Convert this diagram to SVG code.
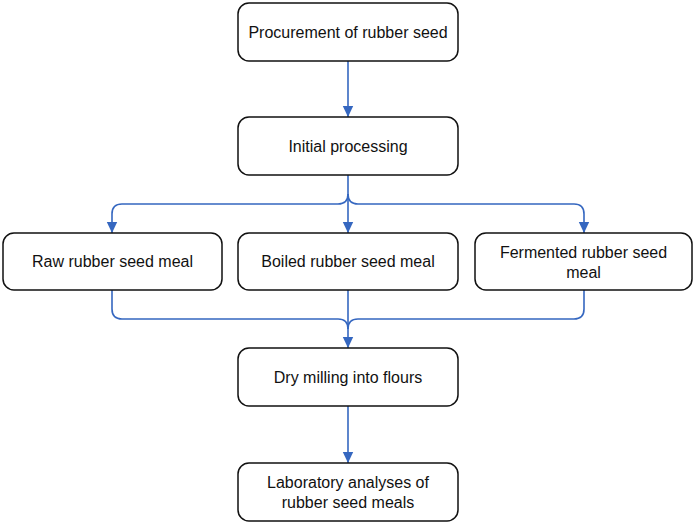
<svg xmlns="http://www.w3.org/2000/svg" width="696" height="524" viewBox="0 0 696 524">
<defs>
<marker id="arr" markerUnits="userSpaceOnUse" markerWidth="12" markerHeight="12" viewBox="0 0 12 12" refX="11" refY="6" orient="auto">
<path d="M0,0.8 L11,6 L0,11.2 Z" fill="#3567c0"/>
</marker>
<style>
.box{fill:#fff;stroke:#111;stroke-width:1.5}
.t{font-family:"Liberation Sans",Arial,sans-serif;font-size:16px;fill:#111;text-anchor:middle}
.c{fill:none;stroke:#3567c0;stroke-width:1.6}
.ca{fill:none;stroke:#3567c0;stroke-width:1.6;marker-end:url(#arr)}
</style>
</defs>
<rect width="696" height="524" fill="#fff"/>
<g id="connectors">
<path class="ca" d="M348,61 V117"/>
<path class="ca" d="M348,175 V233"/>
<path class="ca" d="M348,194 Q348,204 338,204 H122 Q112,204 112,214 V233"/>
<path class="ca" d="M348,194 Q348,204 358,204 H574 Q584,204 584,214 V233"/>
<path class="c" d="M112,290 V309 Q112,319 122,319 H338 Q348,319 348,329"/>
<path class="c" d="M584,290 V309 Q584,319 574,319 H358 Q348,319 348,329"/>
<path class="ca" d="M348,290 V348"/>
<path class="ca" d="M348,406 V463"/>
</g>
<g id="n1"><rect class="box" x="238" y="3" width="220" height="58" rx="11"/><text class="t" x="348" y="37.5">Procurement of rubber seed</text></g>
<g id="n2"><rect class="box" x="238" y="117" width="220" height="58" rx="11"/><text class="t" x="348" y="151.5">Initial processing</text></g>
<g id="n3"><rect class="box" x="3" y="233" width="219" height="57" rx="11"/><text class="t" x="112.5" y="267">Raw rubber seed meal</text></g>
<g id="n4"><rect class="box" x="238" y="233" width="220" height="57" rx="11"/><text class="t" x="348" y="267">Boiled rubber seed meal</text></g>
<g id="n5"><rect class="box" x="475" y="233" width="217" height="57" rx="11"/><text class="t" x="583.5" y="257.5">Fermented rubber seed</text><text class="t" x="583.5" y="278">meal</text></g>
<g id="n6"><rect class="box" x="238" y="348" width="220" height="58" rx="11"/><text class="t" x="348" y="382.5">Dry milling into flours</text></g>
<g id="n7"><rect class="box" x="238" y="463" width="220" height="58" rx="11"/><text class="t" x="348" y="487.5">Laboratory analyses of</text><text class="t" x="348" y="508">rubber seed meals</text></g>
</svg>
